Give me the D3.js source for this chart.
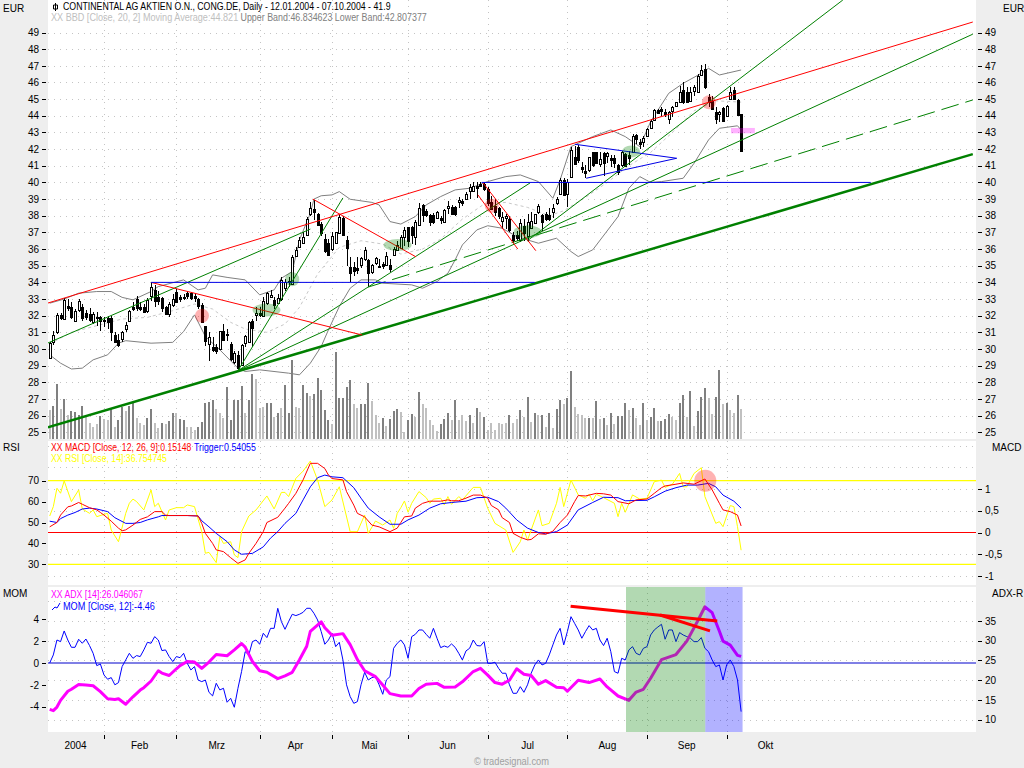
<!DOCTYPE html>
<html>
<head>
<meta charset="utf-8">
<script src="https://cdn.jsdelivr.net/npm/d3@7"></script>
<style>
  html, body { margin: 0; padding: 0; background: #eeeeee; overflow: hidden; }
  svg { display: block; }
  text { font-family: "Liberation Sans", Arial, sans-serif; font-size: 10px; }
</style>
</head>
<body>
<svg id="chart" width="1024" height="768"></svg>
<script>
// Candles, one entry per trading day from 12.01.2004 to 07.10.2004
const opens = [29.45,30.45,31,32.05,31.8,32.6,32.5,31.7,32.35,32.5,32.15,32.1,31.6,31.95,31.9,31.7,31.85,31.85,30.85,30.55,
  30.6,31.2,31.7,32.55,33,32.55,32.55,32.3,33.15,33.55,33.15,33.05,32.5,32.1,32.65,33.45,33.1,33.1,33.35,33.35,
  33.2,33,32.65,31.4,30.3,30.15,30.1,30,31.1,30.9,30.3,29.2,29.65,29.05,30.35,30.4,31.7,32,32.15,32,
  32.75,33.15,32.95,32.75,33,33.7,34.05,33.95,35.6,36.15,36.35,36.85,38.1,38.4,38.1,37.5,36.6,36.35,36,36.4,
  36.95,37.85,36.55,34.95,34.95,34.85,35.05,35.4,35.35,34.6,35.15,35,35.1,35.05,35.05,35.65,35.95,36.1,36.75,37.3,
  37.35,36.75,37.45,38.65,38.3,38.05,38.05,37.85,37.85,37.65,38.45,38.55,38.5,38.8,38.9,39,39.45,39.5,39.8,39.9,
  39.9,39.6,38.85,38.6,38.45,37.7,37.85,37.8,36.85,36.85,36.55,37.4,36.75,37.25,37.55,38.25,38.05,38.1,38.05,38.2,
  38.75,39.3,40.15,39.25,40.35,41.55,42.1,40.95,40.7,40.7,41.8,41.8,41.1,41.75,41.55,41.45,41.45,41.05,41.05,41.7,
  41.65,41.85,42.85,42.45,42.4,42.8,43.3,43.75,44.35,44.4,44.2,43.85,44.25,44.55,44.8,45.55,45.45,44.9,45.45,45.45,
  46.45,46.8,45.15,44.9,44.25,44.05,44.45,44,45,45.55,44.95,44.1];
const highs = [30.4,31.1,32.15,32.15,33.05,33,32.8,32.4,33,32.7,32.35,32.45,32.2,32.2,32,31.95,32,32,31,30.9,
  31.1,31.6,32.35,32.85,33.2,32.8,32.7,33.05,34,33.85,33.5,33.1,32.6,32.8,33.3,33.6,33.25,33.3,33.5,33.45,
  33.35,33.05,32.75,31.4,31,30.7,30.3,31.1,31.5,31.2,30.4,29.9,29.9,30.3,30.85,31.7,31.8,32.5,32.5,33.1,
  33.45,33.55,33.1,33.3,34.3,34.2,34.3,35.65,36.15,36.7,37,37.9,38.85,38.95,38.15,37.6,36.9,36.6,37,36.9,
  38.1,38,36.8,35.55,35.2,35.5,35.5,36.15,35.4,35.1,35.55,35.4,35.2,35.85,35.4,36.1,36.5,36.85,37.3,37.35,
  37.4,37.75,38.75,38.7,38.4,38.1,38.15,38.3,38,38.4,38.9,38.65,38.6,39.15,39,39.4,39.9,40,40,40,
  40,39.7,39.2,39,38.5,38.2,38.1,38,37,37.1,37.8,37.8,38.1,38.2,38.1,38.7,38.1,38.2,38.45,38.7,
  39.1,40.25,40.25,40.2,42.1,42.2,42.25,41.25,41.05,41.55,41.85,41.85,41.8,41.85,41.85,41.65,41.65,41.1,41.9,41.75,
  41.9,42.9,42.9,42.6,42.8,43.25,43.8,44.4,44.4,44.5,44.4,44.3,44.6,44.85,45.8,46,45.7,45.7,45.85,46.5,
  47.05,47.1,45.3,45.2,44.5,44.3,44.5,44.65,45.7,45.75,45,44.1];
const lows = [29.4,30.25,30.9,31.75,31.8,32.3,31.8,31.6,32.2,31.7,31.75,31.65,31.5,31.4,31.1,31.3,31.2,30.5,30.4,30.15,
  30.4,31,31.65,32.3,32.3,32.3,32.2,32.15,32.9,32.55,32.65,32.25,32.05,31.95,32.55,32.8,32.85,32.95,33,32.95,
  32.8,32.4,31.6,30.2,29.3,29.85,29.7,29.95,30.5,30.5,29.3,29.1,28.7,28.95,30.1,30.4,30.15,31.7,31.95,31.9,
  32.65,33.05,32.4,32.7,32.9,33.5,33.7,33.9,35.5,36.1,36.3,36.8,38,37.75,37.4,36.8,35.75,35.6,35.9,36.3,
  36.9,36.8,35,34.05,34.4,34.5,34.85,35.3,33.75,34.5,35.05,34.9,34.8,35,34.6,35.6,35.9,36,36.2,36.15,
  36.3,36.25,37.4,37.6,37.95,37.4,37.5,37.8,37.5,37.6,38.1,38.05,38,38.45,38.6,38.95,39,39.4,39.05,39.7,
  39.5,38.6,38.35,38,37.8,37.2,37.2,37,36.35,36.5,36.4,36.5,36.45,37.2,37.5,38.1,37.1,37.7,37.7,37.85,
  38.65,39.25,39.2,38.55,40.35,41.1,41.15,40.55,40.25,40.65,40.95,41.1,40.9,40.4,41.15,40.95,40.85,40.45,40.95,41,
  41.05,41.8,42.3,42,42.1,42.75,43.3,43.7,44.1,44,43.9,43.5,43.9,44.5,44.75,44.7,44.8,44.8,45.2,45.4,
  46.4,45.6,44.5,44.35,43.5,43.6,43.6,43.95,44.95,45,44,41.9];
const closes = [30.35,30.85,32.05,31.85,32.95,32.5,31.9,32.3,32.9,31.85,31.9,31.75,32.1,31.9,31.65,31.75,31.6,31,30.45,30.25,
  31,31.45,32.3,32.45,32.45,32.45,32.25,32.95,33.7,32.9,32.9,32.45,32.1,32.7,33,32.85,33,33.15,33.15,33.05,
  33.05,32.55,31.65,30.5,30.7,29.95,29.85,31.1,30.55,30.85,29.4,29.75,28.85,30.25,30.8,31.6,31.3,32.15,32.05,32.9,
  33.35,33.25,32.65,33.05,34.15,34.05,34.1,35.55,35.95,36.55,36.7,37.8,38.45,38.2,37.45,36.95,35.85,35.65,36.8,37.05,
  37.9,36.85,36.05,34.6,34.7,34.7,35.45,35.95,34.55,35.05,35.45,34.95,34.95,35.6,34.8,35.99,36.25,36.75,37.15,36.45,
  36.85,37.65,38.45,38.05,38.05,37.6,37.65,38.2,37.75,38.35,38.6,38.1,38.05,38.95,38.75,39.3,39.7,39.8,39.7,39.75,
  39.6,38.75,38.45,38.25,37.95,37.95,38,37.15,36.55,36.65,37.55,36.95,37.6,37.7,38.1,38.6,37.65,37.8,37.8,38.45,
  38.99,40.15,39.25,40,41.95,41.15,41.3,40.85,40.6,41.5,41,41.15,41.4,41.15,41.75,41.35,41.15,40.6,41.85,41,
  41.45,42.8,42.6,42.35,42.65,43.2,43.7,44.35,44.15,44.3,44.05,44.25,44.5,44.8,45.4,44.85,44.85,45.45,45.7,46.4,
  46.75,45.7,44.85,44.4,43.85,44.2,43.65,44.6,45.4,45,44.05,41.9];
const volumes = [290,330,550,297,400,240,280,273,240,330,223,157,117,150,230,197,190,297,117,190,
  323,280,333,357,207,157,140,207,297,157,107,157,150,180,257,263,197,190,123,123,
  90,123,173,357,373,390,297,257,207,523,190,390,390,530,257,390,650,597,307,317,
  357,363,217,257,307,540,257,790,323,307,540,463,430,447,607,490,290,190,150,873,
  407,407,517,590,350,307,350,350,563,383,240,157,207,130,197,283,297,273,67,190,
  250,223,473,350,307,190,140,83,150,197,263,190,390,190,240,183,240,157,307,273,
  223,90,163,90,163,150,157,240,163,197,290,217,417,173,257,240,240,123,257,107,
  297,390,347,407,680,323,247,240,207,213,207,380,200,207,140,257,150,230,230,357,
  290,307,207,140,357,190,220,307,180,180,200,247,220,190,357,440,220,480,130,280,
  420,510,410,250,420,690,347,357,290,257,440,297];
// 1 where the volume bar is drawn dark
const volumeDark = [0,1,1,0,1,0,1,1,1,1,0,0,0,0,1,0,0,1,0,1,
  1,0,1,1,0,0,0,1,1,0,0,1,0,1,1,0,1,1,0,0,
  0,1,1,1,1,1,0,0,0,1,1,1,1,1,0,1,1,0,0,0,
  1,1,0,1,0,1,1,1,0,0,1,1,0,1,1,1,1,1,0,1,
  1,1,1,1,0,0,1,1,1,0,0,0,1,0,1,1,1,0,0,1,
  1,0,1,0,0,0,0,0,1,1,1,0,1,0,0,0,1,0,1,0,
  1,0,0,0,0,0,0,1,0,0,1,0,1,0,1,0,1,0,1,0,
  1,1,0,1,1,0,0,0,0,1,0,1,0,1,0,1,0,1,1,1,
  0,1,0,0,1,0,1,1,0,1,1,1,0,0,1,1,0,1,0,1,
  1,1,0,0,1,1,0,1,0,0,1,0];

// Bollinger bands, read at the bars listed in the *Idx arrays
const upperIdx = [0,4,8,13,17,20,23,28,30,37,41,43,45,49,54,58,62,64,67,69,72,73,75,78,80,83,89,91,94,97,101,104,108,112,116,121,126,130,135,139,141,144,150,155,159,163,166,171,175,180,182,185,191];
const upperBand = [32.75,33,33.35,33.45,33.45,33.1,32.95,33.45,33.75,34.15,33.55,33.65,34.45,34.3,34.15,33.25,33.55,34.25,34.65,36.55,38.15,39,39.2,39.25,39.45,38.99,38.8,38.65,37.65,37.5,37.95,38.65,39.15,39.55,39.65,40.05,40.35,40.45,40.05,39.05,40.15,42.15,42.75,43.15,42.75,42.15,43.65,45.35,45.95,46.55,46.85,46.45,46.75];
const lowerIdx = [0,3,6,9,12,16,19,21,28,34,37,40,43,47,52,54,58,66,69,72,75,77,80,83,86,90,92,100,103,107,110,112,114,118,121,125,129,135,140,144,146,150,157,160,163,166,169,175,178,182,185,190,191];
const lowerBand = [29.65,29.15,28.8,28.85,29.35,29.65,30.35,30.5,30.35,30.4,31.05,32.05,30.75,29.95,28.85,28.65,28.75,28.55,28.45,29.15,30.15,31.15,32.55,33.65,34.15,34.15,33.95,33.85,33.65,34.05,34.55,35.35,36.25,37.15,37.4,37.25,36.75,36.35,36.65,35.85,35.55,35.95,37.95,39.65,40.35,40,40.05,40.25,41.15,42.55,43.25,43.4,43.15];
const midIdx = [0,6,13,20,27,34,40,45,50,54,60,65,69,74,80,86,92,97,103,108,114,120,126,132,138,142,148,154,160,166,172,178,184,191];
const midBand = [30.3,31,31.4,31.8,31.9,32.3,32.7,32.4,31.6,31.2,31,31.5,32.5,34.5,36.1,36.5,36.3,35.7,36,36.6,37.8,38.7,38.8,38.5,38,38.3,39.1,40,41,41.8,43,44.3,44.9,44.82];

// MACD and trigger
const macdIdx = [0,2,3,5,6,8,9,11,13,14,15,17,19,20,21,23,25,27,29,31,32,33,35,38,41,42,43,45,46,48,50,52,54,55,57,59,60,63,65,66,68,70,72,74,76,77,78,81,82,84,85,87,89,91,94,96,97,98,100,101,103,105,108,110,111,113,115,117,119,121,122,124,125,127,128,130,132,133,135,137,139,141,143,145,146,148,151,153,155,157,160,162,165,167,169,170,173,175,178,181,183,185,186,188,190,191];
const macdValues = [0.13,0.23,0.4,0.59,0.61,0.69,0.65,0.57,0.52,0.46,0.4,0.26,0.1,0.04,0.06,0.17,0.3,0.36,0.48,0.48,0.4,0.39,0.39,0.39,0.38,0.21,-0.02,-0.25,-0.4,-0.44,-0.58,-0.71,-0.63,-0.48,-0.25,0.02,0.23,0.35,0.56,0.67,0.9,1.21,1.59,1.59,1.47,1.32,1.24,1.21,0.94,0.63,0.44,0.36,0.17,0.13,0.02,0.1,0.23,0.36,0.38,0.56,0.67,0.72,0.72,0.75,0.73,0.73,0.79,0.86,0.86,0.79,0.62,0.52,0.34,0.23,-0.02,-0.11,-0.17,-0.16,-0.03,-0.04,0.03,0.23,0.4,0.71,0.85,0.84,0.9,0.89,0.86,0.71,0.66,0.75,0.77,0.9,1.03,1.07,1.11,1.14,1.11,1.23,0.98,0.67,0.52,0.48,0.4,0.15];
const triggerIdx = [0,2,3,5,7,9,11,13,16,18,21,23,25,27,30,31,34,38,41,42,44,46,49,51,53,56,59,61,63,65,68,70,72,74,76,78,81,84,86,88,91,94,97,99,102,105,108,111,115,118,121,124,126,129,132,135,137,140,143,146,150,153,157,159,165,167,170,173,176,179,182,184,186,189,191];
const triggerValues = [0.26,0.23,0.32,0.4,0.46,0.54,0.56,0.54,0.48,0.34,0.21,0.21,0.23,0.29,0.36,0.39,0.39,0.39,0.38,0.27,0.13,-0.02,-0.21,-0.4,-0.5,-0.48,-0.33,-0.13,0.02,0.21,0.44,0.75,1.05,1.26,1.32,1.28,1.26,1.03,0.79,0.56,0.36,0.19,0.19,0.29,0.4,0.56,0.66,0.69,0.72,0.8,0.81,0.71,0.56,0.29,0.1,0,-0.03,0.02,0.17,0.52,0.69,0.81,0.8,0.73,0.74,0.82,0.95,1.03,1.09,1.09,1.13,1.05,0.86,0.72,0.56];

// RSI
const rsiIdx = [0,1,2,3,4,6,8,9,11,12,13,16,17,19,21,22,23,24,26,27,28,29,30,32,33,35,37,38,40,42,43,44,46,47,48,50,51,52,53,55,57,60,62,64,65,66,68,70,72,74,76,78,80,83,85,87,88,90,92,94,95,96,97,98,99,100,102,104,105,106,108,109,110,111,113,114,117,119,121,123,126,128,130,131,132,135,136,138,140,141,142,144,146,148,149,150,151,153,156,157,158,159,161,163,165,167,169,170,172,174,175,176,178,180,181,184,185,186,188,189,190,191];
const rsiValues = [53.1,57.6,66.4,64,69.9,60,65.6,56.5,54.4,56,52.8,54.4,46.4,40.8,54.4,59.2,61.2,60,56,60.8,65.6,57.6,59.2,51.2,56,57.1,57.1,58.4,57.6,45.6,35.3,35.7,30.8,43.2,40,40.8,34.5,33.2,45.6,53.1,56,62.7,56.5,64.4,64.4,62.4,71.1,74.6,79.4,70.3,57.6,60.8,67.1,45.6,45.6,53.6,44.8,50.7,48.8,51.2,47.2,54.4,57.1,60.3,54.9,59.2,64.8,61.9,59.2,61.2,61.6,58.4,62.4,58.7,62.4,60.8,66.8,66.8,56.8,49.6,46.4,35.7,40.8,46.4,41.6,56,48.5,49.6,59.2,66.8,57.6,70.3,63.2,61.6,63.5,60.4,63.5,61.9,59.2,52.8,59.2,54.9,63.2,61.2,61.6,69.5,70.3,66.8,68.3,73.5,67.1,67.1,73.5,76.2,62.4,49.6,50.4,48,58.1,57.6,48,36.75];

// Momentum, every bar
const momValues = [0,0.74,2.11,1.96,2.94,2.11,1.44,1.44,2.18,1.81,2.2,1.6,0.89,-0.24,-0.09,-1.1,-1.49,-1.34,-2,-1.8,
  -0.33,0.28,0.89,0.43,0.68,0.59,1.2,1.9,1.81,2.42,2.11,1.14,1.2,0.59,0.13,0.59,0.49,0.89,-0.03,-0.64,
  -0.33,-1.56,-1.71,-1.56,-2.69,-3.02,-1.86,-2.47,-2.32,-3.6,-3.24,-4.06,-2.32,-0.79,1.04,0.74,1.96,2.11,1.72,2.73,
  2.33,3.18,3.18,5.02,3.8,3.09,3.8,4.47,4.35,4.47,4.65,5.02,5.02,4.56,3.95,2.88,1.72,2.11,2.73,1.5,
  1.9,0.28,-2,-3.08,-3.7,-3.54,-2,-0.85,-1.56,-1.34,-1.25,-2,-2.87,-1.56,-1.25,1.35,1.81,
  2.11,1.66,0.43,2.42,2.63,3.03,3.03,2.63,2.27,3.18,2.27,1.41,1.56,1.44,1.75,1.44,0.89,0.28,1.11,1.35,2.11,1.6,
  1.56,1.96,-0.03,-0.03,0.07,-0.49,-0.94,-0.94,-2,-2.78,-2.78,-2.17,-2.69,-2,-0.94,-0.18,0.28,-0.18,-0.03,0.74,
  1.66,2.57,3.18,1.66,2.88,4.25,3.64,3.03,2.27,2.88,3.43,3.03,3.18,2.11,1.6,2.27,1.04,-0.79,-0.94,0.43,
  0.28,1.2,1.5,0.89,0.74,1.35,1.5,2.57,3.03,3.3,3.55,2.18,3.03,3.03,1.96,2.79,2.57,2.42,2.27,1.96,
  1.96,2.33,1.35,1.04,0.28,-0.33,-0.18,-1.56,-0.18,0.28,-0.33,-1.56,-4.46];

// ADX
const adxIdx = [0,1,2,3,5,6,8,10,12,14,16,18,19,21,23,25,26,28,30,31,33,35,36,38,40,42,44,46,49,51,53,54,56,58,60,63,65,67,69,71,72,75,76,78,81,83,85,87,90,92,94,97,100,102,104,107,109,112,114,117,119,121,123,125,127,129,131,133,135,137,140,142,143,146,149,152,154,157,160,162,164,166,169,173,176,179,181,183,185,186,188,190,191];
const adxValues = [12.6,12.3,13.2,14.9,17.2,17.7,18.9,18.8,18.6,17.1,15.3,15.1,15.3,13.9,15.8,17.5,18.1,19.8,22.4,21.8,21.2,22.9,23.7,24.75,24.6,23,24.6,26.5,26.2,27.7,29.3,28.4,24.75,22.4,22,20.4,21.1,22,25.2,28.6,32.4,34.8,33.3,31.4,31.8,29,25.2,22.4,20.9,18.8,16.6,16,16,17.9,19,19.2,18.2,18.3,19.6,22.2,23,21.3,19.4,19,20,22.9,21.5,21.2,19,19.9,18.2,18.1,17.2,20,19.4,20.3,18.3,16,14.9,17,17.7,20.5,25.2,26.5,29.9,35,38.6,37.1,32.4,29.9,28.9,26.3,26.05];

// Drawn trendlines as [bar, price, bar, price]
const redLines = [[-0.5,32.76,255,49.63],[28,34,86.3,30.84],[72.7,39,101.2,35.53],[119.7,39.97,134.3,35.9],[118.3,39.25,129.3,36]];
const greenLines = [[-0.5,30.36,72,37.2],[52,28.7,81,39.07],[52,28.7,132.7,39.97],[52,28.7,255,48.9],[131.85,36.48,219.1,50.95]];
const greenDashed = [[88,33.72,255,44.95]];
const greenThick = [[-0.5,25.3,255,41.7]];
const blueLines = [[28,34,134,34],[119.3,40,226.8,40],[145.1,42.29,173.2,41.45],[148.2,40.25,173.2,41.45]];
const momRedLines = [[143.9,5.2,184.4,3.85],[168.6,4.4,182.4,2.95]];

// Highlighted spots as [bar, price]
const redSpots = [[42.07,32],[122.1,38.6],[182.1,44.81]];
const greenSpots = [[59.9,32.34],[67,34.19],[96.1,36.24],[132,37.04],[160.6,41.85]];
const greenSpotRadius = [[14,6.5],[7,7],[14,6],[14,6.5],[9,6]];
const pinkBand = [188.2,43.27,194.8,42.95];
const rsiSpot = [181.1,70];
const greenSpan = [159.2,181.1];
const blueSpan = [181.1,191.4];

// Tick labels
const priceTicks = d3.range(25, 50);
const rsiTicks = [30,40,50,60,70];
const macdTicks = [-1,-0.5,0,0.5,1];
const macdGrid = [-1,-0.5,0.5,1,1.5,2];
const momTicks = [-4,-2,0,2,4];
const adxTicks = [10,15,20,25,30,35];
const adxGrid = [10,15,20,25,30,35,40];
const monthTickBars = [15,35,58,78,99,121,143,165,187];
const monthLabels = ['2004','Feb','Mrz','Apr','Mai','Jun','Jul','Aug','Sep','Okt'];
const monthLabelBars = [7,24.7,46,67.8,88.2,109.8,131.9,153.9,175.8,197.6];

const left = 48;
const right = 976;
const svg = d3.select('#chart');

const x = d3.scaleLinear().domain([0, 255]).range([49.7, 972.8]);
const yPrice = d3.scaleLinear().domain([25, 49]).range([432.3, 32.5]);
const yVolume = d3.scaleLinear().domain([0, 1000]).range([439, 339]);
const yRsi = d3.scaleLinear().domain([30, 70]).range([564.3, 480.7]);
const yMacd = d3.scaleLinear().domain([-1, 1]).range([576, 489]);
const yMom = d3.scaleLinear().domain([-4, 4]).range([706.6, 619.4]);
const yAdx = d3.scaleLinear().domain([10, 35]).range([719.7, 621]);

const panels = [
  { id: 'price', top: 0, bottom: 439 },
  { id: 'rsi', top: 441, bottom: 585 },
  { id: 'mom', top: 587, bottom: 732 },
];

function drawBackground() {
  svg.append('rect').attr('width', 1024).attr('height', 768).attr('fill', '#eeeeee');
  panels.forEach((p) => {
    svg.append('rect')
      .attr('x', left).attr('y', p.top)
      .attr('width', right - left).attr('height', p.bottom - p.top)
      .attr('fill', '#ffffff');
    svg.append('clipPath').attr('id', `clip-${p.id}`)
      .append('rect')
      .attr('x', left).attr('y', p.top)
      .attr('width', right - left).attr('height', p.bottom - p.top);
  });
}

function drawGrid(panel, scale, ticks) {
  const g = svg.append('g')
    .attr('stroke', '#c4c4c4')
    .attr('stroke-dasharray', '1 5')
    .attr('shape-rendering', 'crispEdges');
  ticks.forEach((t) => {
    g.append('line')
      .attr('x1', left).attr('x2', right)
      .attr('y1', Math.round(scale(t)) + 0.5).attr('y2', Math.round(scale(t)) + 0.5);
  });
  monthTickBars.forEach((b) => {
    g.append('line')
      .attr('x1', Math.round(x(b)) + 0.5).attr('x2', Math.round(x(b)) + 0.5)
      .attr('y1', panel.top).attr('y2', panel.bottom);
  });
}

function drawAxis(axis, tx, format) {
  const g = svg.append('g')
    .attr('transform', `translate(${tx},0)`)
    .call(axis.tickFormat(format || ((d) => d)).tickSizeOuter(0).tickPadding(3));
  g.select('.domain').remove();
  g.selectAll('line').attr('stroke', '#000').attr('shape-rendering', 'crispEdges');
  g.selectAll('text').attr('fill', '#000').style('font-size', '10px');
}

function seriesLine(idx, values, scale) {
  return d3.line().x((d, i) => x(idx[i])).y((d) => scale(d))(values);
}

function drawSeries(parent, idx, values, scale, color, width, dash) {
  parent.append('path')
    .attr('d', seriesLine(idx, values, scale))
    .attr('fill', 'none')
    .attr('stroke', color)
    .attr('stroke-width', width)
    .attr('stroke-linejoin', 'round')
    .attr('stroke-dasharray', dash || null);
}

function drawTrendLines(parent, rows, scale, color, width, dash) {
  parent.selectAll(null)
    .data(rows)
    .enter()
    .append('line')
    .attr('x1', (d) => x(d[0]))
    .attr('y1', (d) => scale(d[1]))
    .attr('x2', (d) => x(d[2]))
    .attr('y2', (d) => scale(d[3]))
    .attr('stroke', color)
    .attr('stroke-width', width)
    .attr('stroke-dasharray', dash || null);
}

function drawPricePanel() {
  const g = svg.append('g').attr('clip-path', 'url(#clip-price)');

  // Volume
  g.selectAll('.vol')
    .data(volumes)
    .enter()
    .append('rect')
    .attr('x', (d, i) => Math.round(x(i)) - 1)
    .attr('y', (d) => Math.round(yVolume(d)))
    .attr('width', 2)
    .attr('height', (d) => yVolume(0) - Math.round(yVolume(d)))
    .attr('fill', (d, i) => (volumeDark[i] ? '#808080' : '#c0c0c0'))
    .attr('shape-rendering', 'crispEdges');

  // Bollinger bands
  drawSeries(g, midIdx, midBand, yPrice, '#c8c8c8', 1, '3 3');
  drawSeries(g, upperIdx, upperBand, yPrice, '#808080', 1);
  drawSeries(g, lowerIdx, lowerBand, yPrice, '#808080', 1);

  // Candles
  const bars = g.selectAll('.bar').data(closes).enter().append('g')
    .attr('shape-rendering', 'crispEdges');
  bars.append('line')
    .attr('x1', (d, i) => Math.round(x(i)) + 0.5)
    .attr('x2', (d, i) => Math.round(x(i)) + 0.5)
    .attr('y1', (d, i) => Math.round(yPrice(highs[i])))
    .attr('y2', (d, i) => Math.round(yPrice(lows[i])))
    .attr('stroke', '#000');
  bars.append('rect')
    .attr('x', (d, i) => Math.round(x(i)) - 0.5)
    .attr('width', 2)
    .attr('y', (d, i) => Math.round(yPrice(Math.max(opens[i], closes[i]))) + 0.5)
    .attr('height', (d, i) => Math.max(1, Math.round(Math.abs(yPrice(opens[i]) - yPrice(closes[i])))))
    .attr('fill', (d, i) => (closes[i] >= opens[i] ? '#ffffff' : '#000000'))
    .attr('stroke', '#000')
    .attr('stroke-width', 1);

  // Trendlines
  drawTrendLines(g, greenLines, yPrice, '#008000', 1);
  drawTrendLines(g, greenDashed, yPrice, '#008000', 1, '18 7');
  drawTrendLines(g, greenThick, yPrice, '#008000', 2.5);
  drawTrendLines(g, redLines, yPrice, '#ff0000', 1);
  drawTrendLines(g, blueLines, yPrice, '#0000e6', 1);

  // Highlights
  g.selectAll('.red-spot').data(redSpots).enter().append('ellipse')
    .attr('cx', (d) => x(d[0])).attr('cy', (d) => yPrice(d[1]))
    .attr('rx', 7).attr('ry', 7)
    .attr('fill', 'rgba(255,0,0,0.3)');
  g.selectAll('.green-spot').data(greenSpots).enter().append('ellipse')
    .attr('cx', (d) => x(d[0])).attr('cy', (d) => yPrice(d[1]))
    .attr('rx', (d, i) => greenSpotRadius[i][0]).attr('ry', (d, i) => greenSpotRadius[i][1])
    .attr('fill', 'rgba(0,128,0,0.3)');
  g.append('rect')
    .attr('x', x(pinkBand[0])).attr('y', yPrice(pinkBand[1]))
    .attr('width', x(pinkBand[2]) - x(pinkBand[0]))
    .attr('height', yPrice(pinkBand[3]) - yPrice(pinkBand[1]))
    .attr('fill', 'rgba(255,0,255,0.3)');
}

function drawRsiPanel() {
  const g = svg.append('g').attr('clip-path', 'url(#clip-rsi)');

  [30, 70].forEach((v) => {
    g.append('line').attr('x1', left).attr('x2', right)
      .attr('y1', yRsi(v)).attr('y2', yRsi(v))
      .attr('stroke', '#ffff00').attr('stroke-width', 1.2);
  });
  g.append('line').attr('x1', left).attr('x2', right)
    .attr('y1', yMacd(0)).attr('y2', yMacd(0))
    .attr('stroke', '#ff0000').attr('stroke-width', 1.2);

  drawSeries(g, rsiIdx, rsiValues, yRsi, '#ffff00', 1);
  drawSeries(g, triggerIdx, triggerValues, yMacd, '#0000ff', 1);
  drawSeries(g, macdIdx, macdValues, yMacd, '#ff0000', 1);

  g.append('circle')
    .attr('cx', x(rsiSpot[0])).attr('cy', yRsi(rsiSpot[1])).attr('r', 11)
    .attr('fill', 'rgba(255,0,0,0.3)');
}

function drawMomPanel() {
  const g = svg.append('g').attr('clip-path', 'url(#clip-mom)');
  const bars = momValues.map((d, i) => i);

  g.append('line').attr('x1', left).attr('x2', right)
    .attr('y1', yMom(0)).attr('y2', yMom(0))
    .attr('stroke', '#0000cc').attr('stroke-width', 1);
  drawSeries(g, bars, momValues, yMom, '#0000ff', 1);
  drawSeries(g, adxIdx, adxValues, yAdx, '#ff00ff', 3);

  [[greenSpan, 'rgba(0,128,0,0.3)'], [blueSpan, 'rgba(0,0,255,0.3)']].forEach(([span, fill]) => {
    g.append('rect')
      .attr('x', x(span[0])).attr('y', 587)
      .attr('width', x(span[1]) - x(span[0])).attr('height', 145)
      .attr('fill', fill);
  });

  // Red divergence lines stay bright on top of the shading
  drawTrendLines(g, momRedLines, yMom, '#ff0000', 3);
}

// Squeeze a text to a given width with a transform, so its box really is that wide
function label(text, px, py, color, width) {
  const t = svg.append('text')
    .attr('fill', color)
    .attr('transform', `translate(${px},${py})`)
    .text(text);
  if (width) {
    const natural = t.node().getComputedTextLength();
    t.attr('transform', `translate(${px},${py}) scale(${width / natural},1)`);
  }
  return t;
}

function drawLabels() {
  // Header
  svg.append('path').attr('d', 'M55.5 3V11M53.5 5H57.5V9H53.5Z')
    .attr('fill', 'none').attr('stroke', '#000');
  label('CONTINENTAL AG AKTIEN O.N., CONG.DE, Daily - 12.01.2004 - 07.10.2004 - 41.9', 63, 10, '#000', 328);
  label('XX BBD [Close, 20, 2] Moving Average:44.821', 51, 21, '#c0c0c0', 187.5);
  label('Upper Band:46.834623 Lower Band:42.807377', 240.5, 21, '#808080', 186.5);

  // Panel legends
  label('XX MACD [Close, 12, 26, 9]:0.15148', 51, 450.5, '#ff0000', 140.5);
  label('Trigger:0.54055', 194, 450.5, '#0000ff', 62);
  label('XX RSI [Close, 14]:36.754745', 51, 461.5, '#ffff00', 116);
  label('XX ADX [14]:26.046067', 51, 598, '#ff00ff', 92);
  svg.append('path').attr('d', 'M52 610L55 607L57 608L60 603')
    .attr('fill', 'none').attr('stroke', '#0000ff');
  label('MOM [Close, 12]:-4.46', 63, 610, '#0000ff', 92);

  // Side captions
  label('EUR', 3, 12, '#000');
  label('EUR', 1003, 12, '#000');
  label('RSI', 3, 451, '#000');
  label('MACD', 992, 451, '#000');
  label('MOM', 3, 597, '#000');
  label('ADX-R', 992, 597, '#000');

  // Footer
  label('\u00a9 tradesignal.com', 474, 765, '#a0a0a0', 75);
}

function drawTimeAxis() {
  const ticks = d3.axisBottom(x).tickValues(monthTickBars).tickSize(4).tickFormat('');
  const tg = svg.append('g').attr('transform', 'translate(0,735)').call(ticks);
  tg.select('.domain').remove();
  tg.selectAll('line').attr('stroke', '#000').attr('shape-rendering', 'crispEdges');

  const names = d3.axisBottom(x).tickValues(monthLabelBars).tickSize(0)
    .tickFormat((d, i) => monthLabels[i]);
  const ng = svg.append('g').attr('transform', 'translate(0,739)').call(names);
  ng.select('.domain').remove();
  ng.selectAll('text').attr('fill', '#000').style('font-size', '10px');
}

document.addEventListener('DOMContentLoaded', () => {
  drawBackground();

  drawGrid(panels[0], yPrice, priceTicks);
  drawGrid(panels[1], yMacd, macdGrid);
  drawGrid(panels[2], yAdx, adxGrid);

  drawPricePanel();
  drawRsiPanel();
  drawMomPanel();

  // Left and right scales
  drawAxis(d3.axisLeft(yPrice).tickValues(priceTicks).tickSize(4), left - 2);
  drawAxis(d3.axisRight(yPrice).tickValues(priceTicks).tickSize(4), right + 2);
  drawAxis(d3.axisLeft(yRsi).tickValues(rsiTicks).tickSize(4), left - 2);
  drawAxis(d3.axisRight(yMacd).tickValues(macdTicks).tickSize(4), right + 2,
    (d) => String(d).replace('.', ','));
  drawAxis(d3.axisLeft(yMom).tickValues(momTicks).tickSize(4), left - 2);
  drawAxis(d3.axisRight(yAdx).tickValues(adxTicks).tickSize(4), right + 2);

  drawTimeAxis();
  drawLabels();
});
</script>
</body>
</html>
